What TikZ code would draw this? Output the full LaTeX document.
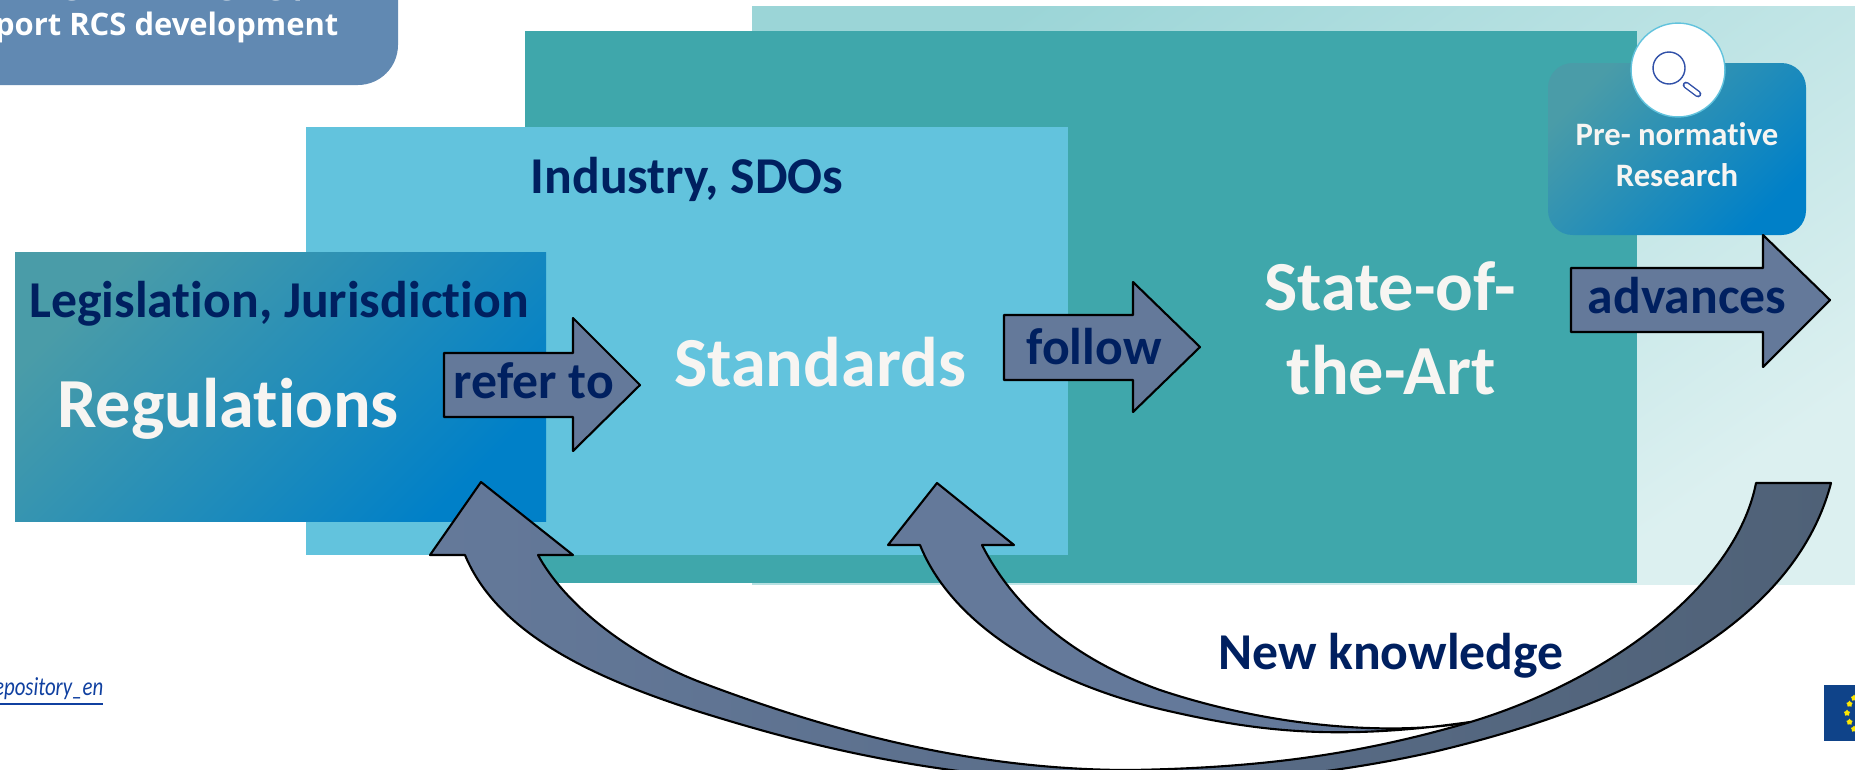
\documentclass[tikz,border=0pt]{standalone}
\usepackage{fontspec}
\usetikzlibrary{shapes.geometric}
\setmainfont{Carlito}[Ligatures={NoCommon}]
\newfontfamily\headfont{Open Sans}
\newfontfamily\linkfont{Carlito}[FakeStretch=0.8]
\definecolor{headblue}{HTML}{6189B2}
\definecolor{teal}{HTML}{3FA7AB}
\definecolor{skyblue}{HTML}{62C3DD}
\definecolor{slate}{HTML}{64799A}
\definecolor{darkslate}{HTML}{4F6177}
\definecolor{navy}{HTML}{002060}
\definecolor{paper}{HTML}{F7F5F2}
\definecolor{gradfrom}{HTML}{4A9CA8}
\definecolor{gradto}{HTML}{0080C8}
\definecolor{lensblue}{HTML}{3050A8}
\definecolor{palefrom}{HTML}{9BD5D7}
\definecolor{paleto}{HTML}{DCF0F0}
\definecolor{flagblue}{HTML}{0F4389}
\definecolor{linkblue}{HTML}{1040A0}
\begin{document}
\begin{tikzpicture}[line cap=round,line join=round,x=0.01cm,y=-0.01cm,
	pointer/.style={draw=black,line width=0.6pt,fill=slate},
	gradbox/.style={top color=gradfrom,bottom color=gradto,shading angle=45},
	tag/.style={anchor=base,inner sep=0pt,text=navy,font=\bfseries\fontsize{14.7}{14.7}\selectfont},
	big/.style={anchor=base,inner sep=0pt,text=paper,font=\bfseries\fontsize{20}{20}\selectfont},
	small/.style={anchor=base,inner sep=0pt,text=paper,font=\bfseries\fontsize{9.3}{9.3}\selectfont},
	headtext/.style={inner sep=0pt,text=white,font=\headfont\bfseries\fontsize{8.8}{8.8}\selectfont}]
	\useasboundingbox (0,0) rectangle (1855,769);
	\clip (0,0) rectangle (1855,769);
	% panels
	\shade[top color=palefrom,bottom color=paleto,shading angle=35] (752,6) rectangle (1855,584);
	\fill[teal] (525,31) rectangle (1637,583);
	\fill[skyblue] (306,127) rectangle (1068,555);
	\shade[gradbox] (15,252) rectangle (546,521);
	% header
	\fill[headblue,rounded corners=11.4pt] (-60,-60) rectangle (398,85);
	\node[headtext,anchor=base east] (head) at (339,35) {pport RCS development};
	\foreach \x/\c in {73/g,228/g,277/g,303/p}
		\node[headtext,anchor=base] at (\x,-7) {\c};
	% link and flag
	\node[anchor=base east,inner sep=0pt,text=linkblue] (link) at (104,695) {\linkfont\itshape\fontsize{7.4}{7.4}\selectfont\underline{epository\_en}};
	\fill[flagblue] (1824,685) rectangle (1870,741);
	\foreach \x/\y in {1854/698,1849.5/704,1847/713,1849.5/722,1854/729}
		\node[star,star points=5,fill=yellow!90!orange,inner sep=0pt,minimum size=1.9pt] at (\x,\y) {};
	% research box
	\shade[gradbox,rounded corners=7pt] (1548,63) rectangle (1806,235);
	\node[circle,draw=skyblue,line width=0.4pt,fill=white,inner sep=0pt,minimum size=26.7pt] (lens) at (1678,70) {};
	\draw[lensblue,line width=0.4pt] (1669,68) circle (16);
	\draw[lensblue,line width=1.9pt] (1686,85)--(1698,94);
	\draw[white,line width=1.1pt] (1686,85)--(1698,94);
	\node[small] (pre) at (1677,145) {Pre- normative};
	\node[small] (res) at (1677,186) {Research};
	% straight arrows
	\draw[pointer] (444,353)--(573,353)--(573,318)--(640,385)--(573,451)--(573,417)--(444,417)--cycle;
	\draw[pointer] (1004,315)--(1133,315)--(1133,282)--(1200,347)--(1133,412)--(1133,380)--(1004,380)--cycle;
	\draw[pointer] (1571,268)--(1763,268)--(1763,235)--(1830,300)--(1763,367)--(1763,332)--(1571,332)--cycle;
	% curved arrows
	\draw[line width=0.6pt,left color=slate,right color=slate] (937,483)--(888,545)--(920,545)
		.. controls (950,620) and (1040,680) .. (1160,709)
		.. controls (1250,730) and (1330,742) .. (1470,722)
		.. controls (1400,735) and (1280,730) .. (1160,690)
		.. controls (1090,665) and (1020,620) .. (982,545)--(1014,545)--cycle;
	\draw[line width=0.6pt,left color=slate,right color=darkslate] (481,482)--(430,555)--(465,555)
		.. controls (500,640) and (610,683) .. (700,712)
		.. controls (790,740) and (900,770) .. (1050,780)
		.. controls (1200,790) and (1330,775) .. (1433,752)
		.. controls (1590,715) and (1790,640) .. (1831,483)
		--(1756,483)
		.. controls (1735,590) and (1600,684) .. (1467,723)
		.. controls (1350,757) and (1250,768) .. (1130,770)
		.. controls (980,770) and (840,735) .. (700,682)
		.. controls (630,655) and (565,605) .. (538,555)--(573,555)--cycle;
	% labels
	\node[tag] (legis) at (279,317) {Legislation, Jurisdiction};
	\node[big] (regul) at (228,427) {Regulations};
	\node[tag] (indus) at (687,193) {Industry, SDOs};
	\node[big] (stand) at (820,386) {Standards};
	\node[big] (state) at (1390,310) {State-of-};
	\node[big] (art) at (1391,394) {the-Art};
	\node[tag] (refer) at (534,398) {refer to};
	\node[tag] (follow) at (1094,364) {follow};
	\node[tag] (adv) at (1687,313) {advances};
	\node[tag] (know) at (1391,669) {New knowledge};
\end{tikzpicture}
\end{document}
